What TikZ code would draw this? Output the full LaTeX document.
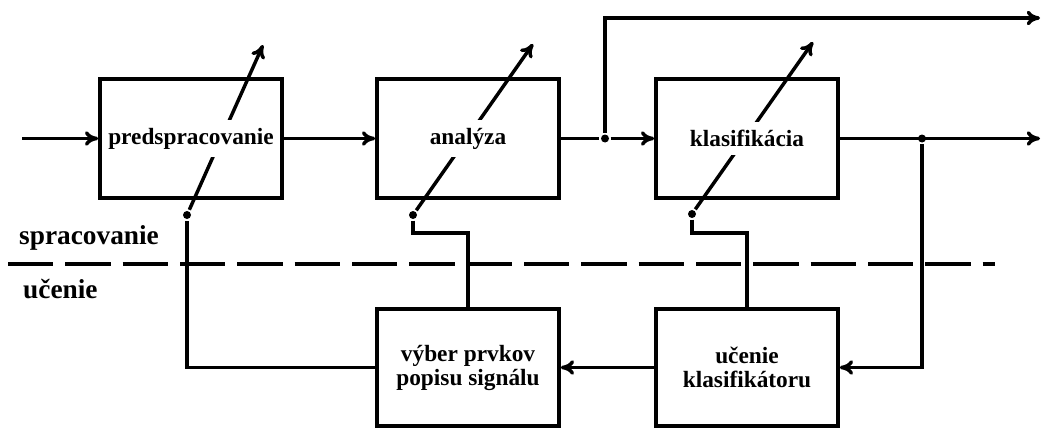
\documentclass[tikz,border=0pt]{standalone}
\usepackage{fontspec}
\setmainfont{Liberation Serif}
\usetikzlibrary{arrows.meta}

\tikzset{
  blok/.style={draw, line width=2.7pt, minimum width=136.5pt, minimum height=89pt, inner sep=0pt},
  blokdole/.style={blok, minimum height=87.75pt},
  napis/.style={fill=white, inner xsep=3pt, inner ysep=6pt, align=center,
    font=\fontsize{17.5}{18}\selectfont\bfseries},
  bod/.style={circle, fill, inner sep=0pt, minimum size=6pt},
  vrstva/.style={anchor=base west, font=\fontsize{20.5}{22}\selectfont\bfseries},
  >={To[length=10pt,width=11pt]}
}

\begin{document}
\begin{tikzpicture}[x=0.75pt,y=-0.75pt,line width=2.6pt]
\useasboundingbox (0,0) rectangle (1042,428);
% bloky spracovania
\node[blok] (pred) at (191,138.5) {};
\node[blok] (anal) at (468,138.5) {};
\node[blok] (klas) at (747,138.5) {};
% bloky ucenia
\node[blokdole] (vyber) at (468,367.5) {};
\node[blokdole] (ucenie) at (747,367.5) {};
% uzly a prepinace
\node[bod] (u1) at (605,138.5) {};
\node[bod] (u2) at (922,138.5) {};
\node[bod] (s1) at (187,215) {};
\node[bod] (s2) at (413,215) {};
\node[bod] (s3) at (692,214) {};
\coordinate (in) at (22,138.5);
\coordinate (out1) at (1040,18);
\coordinate (out2) at (1040,138.5);
\coordinate (t1) at (263,45);
\coordinate (t2) at (533,44);
\coordinate (t3) at (813,42);
\coordinate (k2) at (413,233);
\coordinate (k3) at (692,233);
% hlavna vetva
\draw[->] (in) -- (pred);
\draw[->] (pred) -- (anal);
\draw (anal) -- (u1);
\draw[->] (u1) -- (klas);
\draw[->] (u1) |- (out1);
\draw[->] (klas) -- (out2);
% spatna vazba
\draw[->] (u2) |- (ucenie);
\draw[->] (ucenie) -- (vyber);
\draw (vyber) -| (s1);
\draw (s2) -- (k2) -| (vyber);
\draw (s3) -- (k3) -| (ucenie);
% nastavovanie blokov
\draw[->] (s1) -- (t1);
\draw[->] (s2) -- (t2);
\draw[->] (s3) -- (t3);
% deliaca ciara
\draw[dash pattern=on 34pt off 9pt] (8,264) -- (995,264);
% texty
\node[napis] (predT) at (pred) {predspracovanie};
\node[napis] (analT) at (anal) {analýza};
\node[napis] (klasT) at (klas) {klasifikácia};
\node[napis, fill=none] (vyberT) at (vyber) {výber prvkov\\popisu signálu};
\node[napis, fill=none] (ucenieT) at (ucenie) {učenie\\klasifikátoru};
\node[vrstva] (sprac) at (13,244) {spracovanie};
\node[vrstva] (ucen) at (17,298) {učenie};
\end{tikzpicture}
\end{document}
